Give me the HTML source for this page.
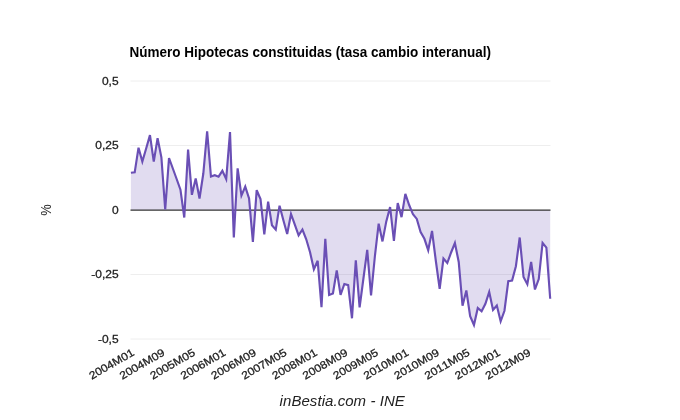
<!DOCTYPE html>
<html><head><meta charset="utf-8"><title>Número Hipotecas constituidas</title>
<style>
html,body{margin:0;padding:0;background:#fff;}
svg{display:block;font-family:"Liberation Sans",Arial,sans-serif;font-kerning:none;}
</style></head><body>
<svg width="680" height="420" viewBox="0 0 680 420">
<rect width="680" height="420" fill="#ffffff"/>
<text x="129.6" y="56.6" font-size="14" font-weight="bold" fill="#000" textLength="361.5" lengthAdjust="spacingAndGlyphs">Número Hipotecas constituidas (tasa cambio interanual)</text>
<g stroke="#eeeeee" stroke-width="1">
<line x1="130.5" x2="550.5" y1="81" y2="81"/>
<line x1="130.5" x2="550.5" y1="145.5" y2="145.5"/>
<line x1="130.5" x2="550.5" y1="274.5" y2="274.5"/>
<line x1="130.5" x2="550.5" y1="339" y2="339"/>
</g>
<polygon points="130.90,210 130.90,172.70 134.71,172.30 138.52,147.70 142.34,161.60 146.15,148.50 149.96,135.10 153.77,161.60 157.58,138.20 161.39,157.30 165.21,209.50 169.02,158.00 172.83,168.50 176.64,179.00 180.45,189.70 184.27,217.50 188.08,149.60 191.89,194.80 195.70,178.40 199.51,198.50 203.32,173.50 207.14,131.30 210.95,176.50 214.76,175.20 218.57,176.70 222.38,170.80 226.20,179.10 230.01,132.00 233.82,237.50 237.63,168.30 241.44,195.60 245.25,186.60 249.07,198.50 252.88,242.00 256.69,190.20 260.50,199.00 264.31,234.40 268.13,201.60 271.94,225.20 275.75,229.60 279.56,205.70 283.37,220.30 287.18,234.00 291.00,214.00 294.81,224.60 298.62,235.30 302.43,229.50 306.24,239.30 310.06,252.30 313.87,269.30 317.68,260.80 321.49,307.20 325.30,238.80 329.11,295.00 332.93,293.50 336.74,270.40 340.55,294.80 344.36,284.00 348.17,285.10 351.99,318.30 355.80,260.40 359.61,307.40 363.42,278.50 367.23,249.90 371.04,295.50 374.86,256.50 378.67,223.60 382.48,241.40 386.29,221.40 390.10,207.00 393.92,241.00 397.73,203.00 401.54,217.10 405.35,193.80 409.16,205.00 412.97,214.30 416.79,218.90 420.60,232.00 424.41,238.80 428.22,250.20 432.03,231.00 435.85,261.00 439.66,288.75 443.47,258.60 447.28,263.00 451.09,252.50 454.90,243.00 458.72,262.00 462.53,305.75 466.34,290.50 470.15,316.25 473.96,325.00 477.78,308.00 481.59,311.25 485.40,303.75 489.21,292.00 493.02,310.00 496.83,305.50 500.65,321.25 504.46,310.75 508.27,281.25 512.08,280.50 515.89,266.25 519.71,237.50 523.52,277.00 527.33,284.20 531.14,262.00 534.95,289.50 538.76,279.00 542.58,242.90 546.39,247.70 550.20,298.75 550.20,210" fill="#6a4fb5" fill-opacity="0.2"/>
<line x1="130.5" x2="550.5" y1="210" y2="210" stroke="#333" stroke-width="1.25"/>
<polyline points="130.90,172.70 134.71,172.30 138.52,147.70 142.34,161.60 146.15,148.50 149.96,135.10 153.77,161.60 157.58,138.20 161.39,157.30 165.21,209.50 169.02,158.00 172.83,168.50 176.64,179.00 180.45,189.70 184.27,217.50 188.08,149.60 191.89,194.80 195.70,178.40 199.51,198.50 203.32,173.50 207.14,131.30 210.95,176.50 214.76,175.20 218.57,176.70 222.38,170.80 226.20,179.10 230.01,132.00 233.82,237.50 237.63,168.30 241.44,195.60 245.25,186.60 249.07,198.50 252.88,242.00 256.69,190.20 260.50,199.00 264.31,234.40 268.13,201.60 271.94,225.20 275.75,229.60 279.56,205.70 283.37,220.30 287.18,234.00 291.00,214.00 294.81,224.60 298.62,235.30 302.43,229.50 306.24,239.30 310.06,252.30 313.87,269.30 317.68,260.80 321.49,307.20 325.30,238.80 329.11,295.00 332.93,293.50 336.74,270.40 340.55,294.80 344.36,284.00 348.17,285.10 351.99,318.30 355.80,260.40 359.61,307.40 363.42,278.50 367.23,249.90 371.04,295.50 374.86,256.50 378.67,223.60 382.48,241.40 386.29,221.40 390.10,207.00 393.92,241.00 397.73,203.00 401.54,217.10 405.35,193.80 409.16,205.00 412.97,214.30 416.79,218.90 420.60,232.00 424.41,238.80 428.22,250.20 432.03,231.00 435.85,261.00 439.66,288.75 443.47,258.60 447.28,263.00 451.09,252.50 454.90,243.00 458.72,262.00 462.53,305.75 466.34,290.50 470.15,316.25 473.96,325.00 477.78,308.00 481.59,311.25 485.40,303.75 489.21,292.00 493.02,310.00 496.83,305.50 500.65,321.25 504.46,310.75 508.27,281.25 512.08,280.50 515.89,266.25 519.71,237.50 523.52,277.00 527.33,284.20 531.14,262.00 534.95,289.50 538.76,279.00 542.58,242.90 546.39,247.70 550.20,298.75" fill="none" stroke="#6a4fb5" stroke-width="2.15"/>
<g font-size="12" fill="#222" stroke="#222" stroke-width="0.3" text-anchor="end">
<text transform="translate(118.6 84.8) scale(1 0.9)">0,5</text>
<text transform="translate(118.6 149.3) scale(1 0.9)">0,25</text>
<text transform="translate(118.6 213.8) scale(1 0.9)">0</text>
<text transform="translate(118.6 278.3) scale(1 0.9)">-0,25</text>
<text transform="translate(118.6 342.8) scale(1 0.9)">-0,5</text>
</g>
<g font-size="12" fill="#222" stroke="#222" stroke-width="0.3">
<text transform="translate(135.00 354.7) rotate(-30) scale(1 0.9)" text-anchor="end">2004M01</text>
<text transform="translate(165.49 354.7) rotate(-30) scale(1 0.9)" text-anchor="end">2004M09</text>
<text transform="translate(195.99 354.7) rotate(-30) scale(1 0.9)" text-anchor="end">2005M05</text>
<text transform="translate(226.48 354.7) rotate(-30) scale(1 0.9)" text-anchor="end">2006M01</text>
<text transform="translate(256.98 354.7) rotate(-30) scale(1 0.9)" text-anchor="end">2006M09</text>
<text transform="translate(287.47 354.7) rotate(-30) scale(1 0.9)" text-anchor="end">2007M05</text>
<text transform="translate(317.97 354.7) rotate(-30) scale(1 0.9)" text-anchor="end">2008M01</text>
<text transform="translate(348.46 354.7) rotate(-30) scale(1 0.9)" text-anchor="end">2008M09</text>
<text transform="translate(378.96 354.7) rotate(-30) scale(1 0.9)" text-anchor="end">2009M05</text>
<text transform="translate(409.45 354.7) rotate(-30) scale(1 0.9)" text-anchor="end">2010M01</text>
<text transform="translate(439.95 354.7) rotate(-30) scale(1 0.9)" text-anchor="end">2010M09</text>
<text transform="translate(470.44 354.7) rotate(-30) scale(1 0.9)" text-anchor="end">2011M05</text>
<text transform="translate(500.93 354.7) rotate(-30) scale(1 0.9)" text-anchor="end">2012M01</text>
<text transform="translate(531.43 354.7) rotate(-30) scale(1 0.9)" text-anchor="end">2012M09</text>
</g>
<text transform="translate(50.9 210) rotate(-90) scale(0.92 1)" text-anchor="middle" font-size="14" fill="#222">%</text>
<text x="342.2" y="406.2" text-anchor="middle" font-size="15" textLength="125.2" lengthAdjust="spacing" font-style="italic" fill="#222">inBestia.com - INE</text>
</svg>
</body></html>
